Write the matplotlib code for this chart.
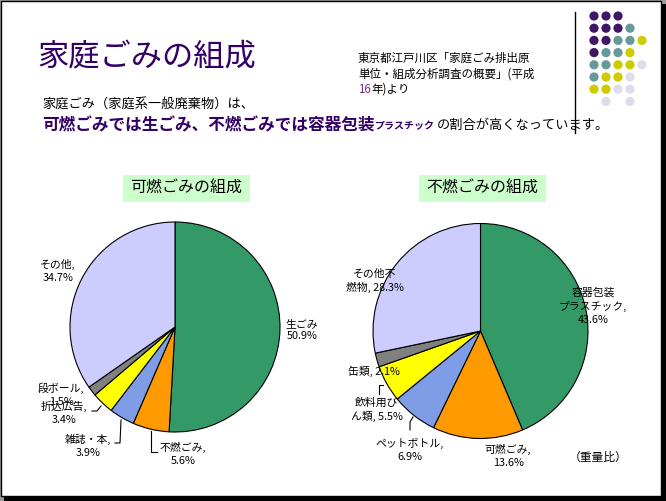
import matplotlib.pyplot as plt
from matplotlib.patches import Rectangle, Circle

plt.rcParams['font.family'] = ['Noto Sans CJK JP', 'DejaVu Sans']

# data
left_names = ['生ごみ', '不燃ごみ', '雑誌・本', '折込広告', '段ボール', 'その他']
left_values = [50.9, 5.6, 3.9, 3.4, 1.5, 34.7]
left_fmt = ['{n}\n{v}%', '{n},\n{v}%', '{n},\n{v}%', '{n},\n{v}%', '{n},\n{v}%', '{n},\n{v}%']

right_names = ['容器包装プラスチック', '可燃ごみ', 'ペットボトル', '飲料用びん類', '缶類', 'その他不燃物']
right_values = [43.6, 13.6, 6.9, 5.5, 2.1, 28.3]
right_fmt = ['容器包装\nプラスチック,\n{v}%', '{n},\n{v}%', '{n},\n{v}%',
             '飲料用び\nん類, {v}%', '{n}, {v}%', 'その他不\n燃物, {v}%']

slice_colors = ['#339966', '#FF9900', '#7F9CE6', '#FFFF00', '#808080', '#CCCCFF']

# dot grid in the corner (row, col, colour key)
dot_rows = ['PPP', 'PPPT', 'PPTTY', 'PTTY', 'TTYYL', 'TYYL', 'YYLL', ' L L']
dot_colors = {'P': '#3F1566', 'T': '#669999', 'Y': '#CCCC00', 'L': '#DDDDEE'}

W, H = 666, 501
fig = plt.figure(figsize=(W / 100, H / 100), dpi=100)
fig.patch.set_facecolor('#9a9a9a')


def canvas(z):
    a = fig.add_axes([0, 0, 1, 1], zorder=z)
    a.set_xlim(0, W)
    a.set_ylim(H, 0)
    a.axis('off')
    a.patch.set_alpha(0)
    return a


bg = canvas(0)
top = canvas(5)

# window with drop shadow
bg.add_patch(Rectangle((4, 4), W, H, facecolor='black', edgecolor='none'))
bg.add_patch(Rectangle((0.5, 0.5), 660.5, 495, facecolor='white', edgecolor='black', lw=1))

# title + source
bg.text(37, 57, '家庭ごみの組成', fontsize=22.5, color='#330066', va='center', ha='left')
bg.text(358, 58, '東京都江戸川区「家庭ごみ排出原', fontsize=8.3, va='center')
bg.text(358, 74, '単位・組成分析調査の概要」(平成', fontsize=8.3, va='center')
bg.text(358, 89, '16', fontsize=8.3, va='center', color='#663399')
bg.text(371, 89, '年)より', fontsize=8.3, va='center')

# lead text
bg.text(42, 104, '家庭ごみ（家庭系一般廃棄物）は、', fontsize=9.5, va='center')
bg.text(42, 125, '可燃ごみでは生ごみ、不燃ごみでは容器包装', fontsize=12,
        fontweight='bold', color='#330066', va='center')
bg.text(375, 126, 'プラスチック', fontsize=7.2, fontweight='bold', color='#330066', va='center')
bg.text(437, 125, 'の割合が高くなっています。', fontsize=9.5, va='center')

# vertical rule and dots
bg.plot([575, 575], [12, 133], color='black', lw=1)
for r, row in enumerate(dot_rows):
    for c, key in enumerate(row):
        if key != ' ':
            bg.add_patch(Circle((594 + 12 * c, 16 + 12.2 * r), 4.6,
                                facecolor=dot_colors[key], edgecolor='none'))

# chart titles
for x0, txt in [(123, '可燃ごみの組成'), (419, '不燃ごみの組成')]:
    bg.add_patch(Rectangle((x0, 175), 127, 27, facecolor='#CCFFCC', edgecolor='none'))
    bg.text(x0 + 63.5, 188.5, txt, fontsize=11.5, ha='center', va='center')

bg.text(598, 457, '（重量比）', fontsize=8.5, ha='center', va='center')


def draw_pie(cx, cy, r, values, names, fmts, label_pos, leaders):
    ax = fig.add_axes([(cx - r) / W, (H - cy - r) / H, 2 * r / W, 2 * r / H], zorder=2)
    ax.pie(values, colors=slice_colors, startangle=90, counterclock=False,
           radius=1, wedgeprops=dict(edgecolor='black', linewidth=0.8))
    ax.set_xlim(-1, 1)
    ax.set_ylim(-1, 1)
    ax.axis('off')
    for n, v, f, (px, py) in zip(names, values, fmts, label_pos):
        top.text(px, py, f.format(n=n, v=v), fontsize=7.8, ha='center', va='center',
                 linespacing=1.35)
    for xs, ys in leaders:
        top.plot(xs, ys, color='black', lw=0.8)


draw_pie(175, 327, 105, left_values, left_names, left_fmt,
         [(302, 330), (183, 454), (88, 446), (64, 413), (61, 395), (58, 271)],
         [([151, 151, 157], [431, 452, 452]),
          ([121, 120, 115], [420, 443, 443]),
          ([101, 97, 92], [406, 411, 411])])

draw_pie(480.5, 331, 107.5, right_values, right_names, right_fmt,
         [(593, 306), (508, 456), (410, 450), (377, 410), (374, 371), (375, 281)],
         [([413, 410, 410], [417, 422, 430]),
          ([383, 379, 379], [385, 385, 394])])

fig.savefig('out.png', dpi=100, facecolor=fig.get_facecolor())
